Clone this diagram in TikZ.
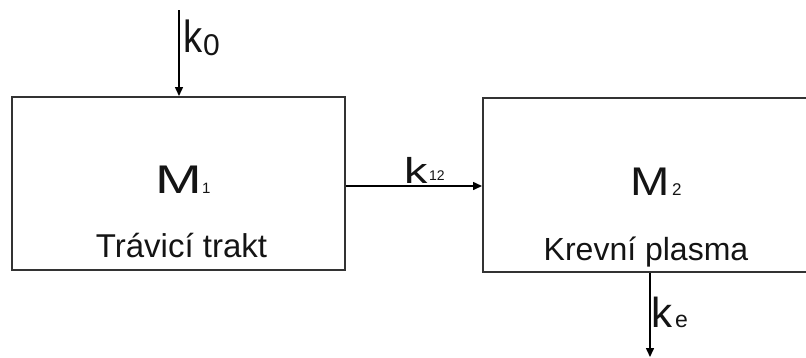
\documentclass[tikz,border=0pt]{standalone}
\usepackage{fontspec}
\setmainfont{Liberation Sans}
\usetikzlibrary{arrows.meta}
\newcommand{\fs}[1]{\fontsize{#1}{#1}\selectfont}
\begin{document}
\begin{tikzpicture}[x=1pt,y=-1pt,
  box/.style={draw=black!80, line width=2pt, rectangle, inner sep=0pt},
  flow/.style={draw=black, line width=1.5pt, -{Triangle[length=9pt,width=8pt]}},
  lbl/.style={inner sep=0pt, anchor=base west, text=black!92}]
\useasboundingbox (0,0) rectangle (806,357);
% compartments
\node[box, minimum width=333pt, minimum height=173pt] (m1) at (178.5,183.5) {};
\node[box, minimum width=347pt, minimum height=174pt] (m2) at (656.5,185) {};
% texts in boxes
\node[lbl] (m1M) at (155,193) {\fs{40}\scalebox{1.4}[1]{M}};
\node[lbl] (m1s) at (202,193) {\fs{15}1};
\node[lbl, anchor=base] (m1t) at (181.5,257) {\fs{33}Trávicí trakt};
\node[lbl] (m2M) at (630,195) {\fs{40}\scalebox{1.18}[1]{M}};
\node[lbl] (m2s) at (672,195) {\fs{17}2};
\node[lbl, anchor=base] (m2t) at (646,260) {\fs{32}Krevní plasma};
% connectors
\coordinate (k0start) at (179,10);
\coordinate (y186) at (0,186);
\coordinate (keend) at (650,357);
\draw[flow] (k0start) -- (k0start |- m1.north);
\draw[flow] (m1.east |- y186) -- (m2.west |- y186);
\draw[flow] (keend |- m2.south) -- (keend);
% rate labels
\node[lbl] (k0k) at (183,52) {\fs{45}\scalebox{0.85}[1]{k}};
\node[lbl] (k0s) at (203,55) {\fs{30}0};
\node[lbl] (k12k) at (404,183) {\fs{36}\scalebox{1.3}[1]{k}};
\node[lbl] (k12s) at (429,180) {\fs{14}12};
\node[lbl] (kek) at (651,327) {\fs{42}k};
\node[lbl] (kes) at (675,327) {\fs{23}e};
\end{tikzpicture}
\end{document}
